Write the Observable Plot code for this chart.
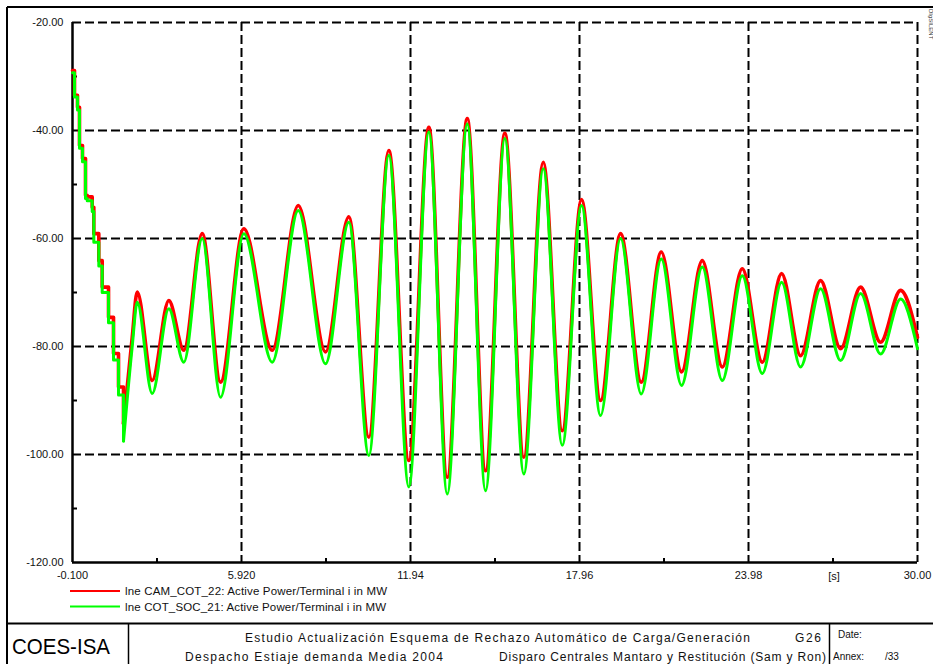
<!DOCTYPE html>
<html>
<head>
<meta charset="utf-8">
<script src="https://cdn.jsdelivr.net/npm/d3@7"></script>
<script src="https://cdn.jsdelivr.net/npm/@observablehq/plot@0.6"></script>
<style>
  html, body { margin: 0; padding: 0; background: #fff; }
  #wrap { position: relative; width: 933px; height: 664px; overflow: hidden; font-family: "Liberation Sans", Arial, sans-serif; }
  #wrap > svg { position: absolute; left: 0; top: 0; }
</style>
</head>
<body>
<div id="wrap"></div>
<script>
// ---- data ----
const time = [-0.1, -0.029, 0.078, 0.149, 0.256, 0.363, 0.424, 0.602, 0.659, 0.837,
  0.958, 1.183, 1.361, 1.539, 1.717, 2.027, 2.205, 2.739, 3.331, 3.865,
  4.521, 5.173, 6.003, 7.014, 7.941, 8.913, 9.743, 10.456, 11.168, 11.881,
  12.594, 13.249, 13.961, 14.613, 15.301, 15.978, 16.669, 17.346, 18.033, 18.710,
  19.423, 20.160, 20.873, 21.596, 22.333, 23.046, 23.758, 24.471, 25.159, 25.835,
  26.548, 27.260, 27.973, 28.685, 29.398, 30.0];
const camCot22 = [-28.9, -33.5, -35.7, -42.8, -45.2, -52.0, -52.3, -54.2, -59.1, -64.1,
  -69.0, -74.6, -81.3, -87.5, -94.3, -78.3, -69.9, -86.3, -71.5, -80.7,
  -59.1, -86.6, -58.2, -80.7, -53.9, -81.0, -56.0, -96.8, -43.7, -101.1,
  -39.4, -104.2, -37.8, -103.0, -40.5, -100.5, -45.9, -95.6, -52.8, -90.0,
  -59.1, -86.6, -62.5, -84.7, -64.1, -83.8, -65.6, -82.9, -66.5, -81.7,
  -67.8, -80.4, -69.0, -79.2, -69.6, -78.3];
const cotSoc21 = [-29.3, -33.8, -36.2, -43.3, -45.8, -52.6, -53.0, -55.0, -60.7, -65.1,
  -70.0, -75.6, -82.5, -89.0, -97.5, -80.0, -71.8, -88.7, -73.0, -82.9,
  -60.0, -89.4, -59.1, -82.9, -54.8, -83.2, -57.0, -100.2, -44.6, -106.0,
  -40.3, -107.3, -38.8, -106.7, -41.5, -103.6, -47.1, -98.3, -53.9, -92.8,
  -60.0, -88.8, -63.8, -87.2, -65.3, -86.3, -66.9, -85.0, -68.1, -83.8,
  -69.3, -82.6, -70.2, -81.4, -71.2, -80.4];
const seriesNames = ["lne CAM_COT_22: Active Power/Terminal i in MW", "lne COT_SOC_21: Active Power/Terminal i in MW"];
const seriesColors = ["#ff0000", "#00ff00"];
const xTicks = [-0.1, 5.92, 11.94, 17.96, 23.98, 30.0];
const xTickLabels = ["-0.100", "5.920", "11.94", "17.96", "23.98", "30.00"];
const xMinor = [2.91, 8.93, 14.95, 20.97, 26.99];
const yTicks = [-20, -40, -60, -80, -100, -120];
const yMinor = [-30, -50, -70, -90, -110];
const xUnit = "[s]";
const titleRow1 = "Estudio Actualización Esquema de Rechazo Automático de Carga/Generación";
const titleRow2a = "Despacho Estiaje demanda Media 2004";
const titleRow2b = "Disparo Centrales Mantaro y Restitución (Sam y Ron)";
const company = "COES-ISA";
const pageCode = "G26";

// ---- build tables ----
const stepEnd = 14; // initial stepped descent, then smooth swings
const red = time.map((t, i) => ({t, v: camCot22[i], i}));
const green = time.map((t, i) => ({t, v: cotSoc21[i], i}));
const head = arr => arr.filter(d => d.i <= stepEnd);
const tail = arr => arr.filter(d => d.i >= stepEnd);

const W = 933, H = 664;
const chart = Plot.plot({
  width: W, height: H,
  marginLeft: 72, marginRight: 16, marginTop: 22, marginBottom: 102,
  style: {fontFamily: '"Liberation Sans", Arial, sans-serif', fontSize: "11px", color: "#111", background: "transparent", overflow: "visible"},
  x: {domain: [-0.1, 30], axis: null},
  y: {domain: [-120, -20], axis: null},
  marks: [
    Plot.ruleY(yTicks.filter(d => d > -120), {stroke: "#000", strokeWidth: 2, strokeDasharray: "9,4"}),
    Plot.ruleX(xTicks.filter(d => d > -0.1), {stroke: "#000", strokeWidth: 2, strokeDasharray: "9,4"}),
    Plot.ruleX([-0.1], {stroke: "#000", strokeWidth: 2.5}),
    Plot.ruleY([-120], {stroke: "#000", strokeWidth: 2.5}),
    Plot.tickY(yMinor, {y: d => d, insetRight: 840, stroke: "#000", strokeWidth: 2}),
    Plot.tickX(xMinor, {x: d => d, insetTop: 536, stroke: "#000", strokeWidth: 2}),
    Plot.line(head(red), {x: "t", y: "v", stroke: seriesColors[0], strokeWidth: 3.6, curve: "step-after"}),
    Plot.line(tail(red), {x: "t", y: "v", stroke: seriesColors[0], strokeWidth: 3.6, curve: "monotone-x"}),
    Plot.line(head(green), {x: "t", y: "v", stroke: seriesColors[1], strokeWidth: 3, curve: "step-after"}),
    Plot.line(tail(green), {x: "t", y: "v", stroke: seriesColors[1], strokeWidth: 3, curve: "monotone-x"}),
    Plot.axisY({ticks: yTicks, tickFormat: d => d.toFixed(2), tickSize: 0, tickPadding: 9, fontSize: 11, label: null}),
    Plot.axisX({ticks: xTicks, tickFormat: (d, i) => xTickLabels[i], tickSize: 0, tickPadding: 9, fontSize: 11, label: null})
  ]
});
const wrap = document.getElementById("wrap");
wrap.appendChild(chart);

// ---- frame, legend and title block overlay ----
const ns = "http://www.w3.org/2000/svg";
const ov = document.createElementNS(ns, "svg");
ov.setAttribute("width", W); ov.setAttribute("height", H);
ov.setAttribute("style", "position:absolute;left:0;top:0;pointer-events:none");
function el(tag, attrs, text) {
  const e = document.createElementNS(ns, tag);
  for (const k in attrs) e.setAttribute(k, attrs[k]);
  if (text != null) e.textContent = text;
  ov.appendChild(e);
  return e;
}
const ff = '"Liberation Sans", Arial, sans-serif';
// outer frame
el("line", {x1: 7, y1: 7, x2: 933, y2: 7, stroke: "#000", "stroke-width": 2});
el("line", {x1: 7, y1: 7, x2: 7, y2: 664, stroke: "#000", "stroke-width": 2});
el("line", {x1: 7, y1: 623.5, x2: 933, y2: 623.5, stroke: "#000", "stroke-width": 2});
el("line", {x1: 128.5, y1: 623, x2: 128.5, y2: 664, stroke: "#000", "stroke-width": 1.5});
el("line", {x1: 829.5, y1: 623, x2: 829.5, y2: 664, stroke: "#000", "stroke-width": 1.5});
// unit label
el("text", {x: 834, y: 579.5, "font-family": ff, "font-size": 11, "text-anchor": "middle", fill: "#111"}, xUnit);
// legend
[0, 1].forEach(i => {
  const y = 591 + i * 15.5;
  el("line", {x1: 70, y1: y, x2: 120, y2: y, stroke: seriesColors[i], "stroke-width": 2});
  el("text", {x: 125, y: y + 4, "font-family": ff, "font-size": 11.5, textLength: 262 - i, lengthAdjust: "spacing", fill: "#111"}, seriesNames[i]);
});
// title block
el("text", {x: 12, y: 653.5, "font-family": ff, "font-size": 22, textLength: 98, lengthAdjust: "spacingAndGlyphs", fill: "#000"}, company);
el("text", {x: 245, y: 642, "font-family": ff, "font-size": 12, textLength: 505, lengthAdjust: "spacing", fill: "#111"}, titleRow1);
el("text", {x: 795, y: 642, "font-family": ff, "font-size": 12, textLength: 26, lengthAdjust: "spacing", fill: "#111"}, pageCode);
el("text", {x: 185, y: 660.5, "font-family": ff, "font-size": 12, textLength: 258, lengthAdjust: "spacing", fill: "#111"}, titleRow2a);
el("text", {x: 499, y: 660.5, "font-family": ff, "font-size": 12, textLength: 327, lengthAdjust: "spacing", fill: "#111"}, titleRow2b);
el("text", {x: 838, y: 638, "font-family": ff, "font-size": 10, fill: "#111"}, "Date:");
el("text", {x: 833, y: 660, "font-family": ff, "font-size": 10, fill: "#111"}, "Annex:");
el("text", {x: 885, y: 660, "font-family": ff, "font-size": 10, fill: "#111"}, "/33");
el("text", {x: 0, y: 0, "font-family": ff, "font-size": 6, fill: "#333", transform: "translate(929,9) rotate(90)"}, "DIgSILENT");
wrap.appendChild(ov);
</script>
</body>
</html>
